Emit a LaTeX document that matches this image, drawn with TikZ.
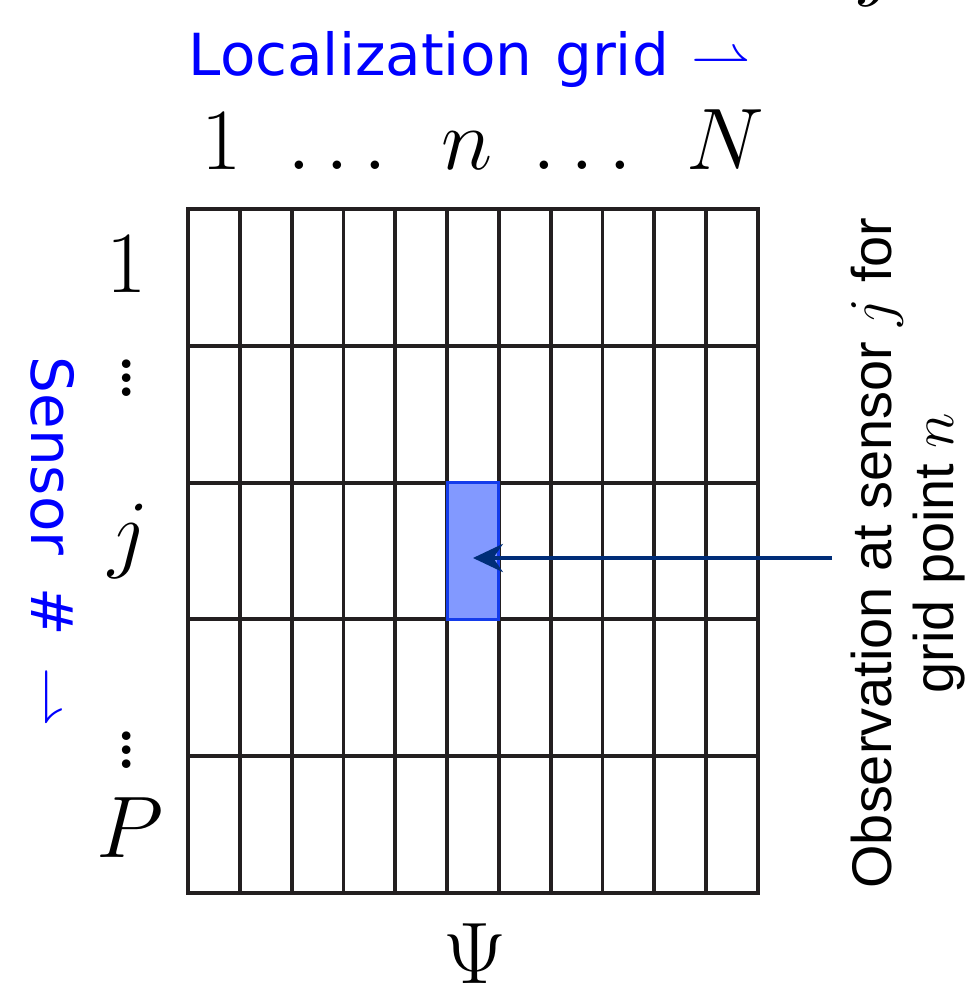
\documentclass[tikz,border=0pt]{standalone}
\usepackage{amsmath, amssymb}
\usepackage{fontspec}
\newfontfamily\axisfont[WordSpace=1.25]{DejaVu Sans}
\newfontfamily\notefont{Liberation Sans}
\usetikzlibrary{arrows.meta}

\definecolor{gridblack}{RGB}{35,31,32}
\definecolor{cellfill}{RGB}{130,153,255}
\definecolor{celledge}{RGB}{20,60,235}
\definecolor{obsnavy}{RGB}{0,45,120}
\definecolor{labelblue}{RGB}{0,0,255}

\tikzset{
  gridline/.style={draw=gridblack, line width=1.1pt},
  axislabel/.style={text=labelblue, font=\fontsize{16.5}{20}\selectfont\axisfont, inner sep=0pt},
  idxlabel/.style={font=\fontsize{24}{29}\selectfont, inner sep=0pt},
  dotslabel/.style={font=\fontsize{30}{36}\selectfont\boldmath, inner sep=0pt},
  notelabel/.style={font=\fontsize{15.9}{17.9}\selectfont\notefont, align=center, inner sep=0pt},
  obscell/.style={draw=celledge, fill=cellfill, line width=0.9pt, minimum width=5.18mm,
    minimum height=13.68mm, inner sep=0pt, outer sep=0pt},
  obsarrow/.style={draw=obsnavy, line width=1.15pt, -{Stealth[length=8.5pt,width=8pt]}}
}

\begin{document}
\begin{tikzpicture}[x=0.1mm, y=-0.1mm]
  \useasboundingbox (0,0) rectangle (971,984);
  % Psi: 11 grid points by 5 sensors
  \draw[gridline] (188,209) rectangle (758,893);
  \foreach \c in {1,...,10}
    \draw[gridline] ({188+\c*51.818},209) -- ({188+\c*51.818},893);
  \foreach \r in {1,...,4}
    \draw[gridline] (188,{209+\r*136.8}) -- (758,{209+\r*136.8});
  \node[obscell] (cell) at (473,551) {};

  % axis labels
  \node[axislabel, anchor=base west] (locgrid) at (188,76) {Localization grid $\rightharpoonup$};
  \node[axislabel, rotate=-90, anchor=base] (sensor) at (31,542)
    {Sensor\hspace{0.55em}\#\hspace{0.55em}$\rightharpoonup$};

  \node[idxlabel, anchor=base] (col1) at (222,170) {$1$};
  \node[idxlabel, anchor=base] (dotsl) at (345,170) {$\dots$};
  \node[idxlabel, anchor=base] (coln) at (467,170) {$n$};
  \node[idxlabel, anchor=base] (dotsr) at (590,170) {$\dots$};
  \node[idxlabel, anchor=base] (colN) at (725,170) {$N$};

  \node[idxlabel, anchor=base] (row1) at (127,293) {$1$};
  \node[dotslabel] (vdotst) at (127,368) {$\vdots$};
  \node[idxlabel, font=\fontsize{28}{34}\selectfont, anchor=base] (rowj) at (129,561) {$j$};
  \node[dotslabel] (vdotsb) at (127,740) {$\vdots$};
  \node[idxlabel, anchor=base] (rowP) at (130,857) {$P$};

  \node[idxlabel, font=\fontsize{25}{30}\selectfont, anchor=base] (psi) at (475,983) {$\Psi$};
  \node[idxlabel, anchor=base] (topj) at (880,-10) {$j$};

  % observation note
  \node[notelabel, rotate=90] (note) at (908,553) {Observation at sensor $j$ for\\grid point $n$};
  \coordinate (obsstart) at (832,558);
  \draw[obsarrow] (obsstart) -- (cell.center |- obsstart);
\end{tikzpicture}
\end{document}
